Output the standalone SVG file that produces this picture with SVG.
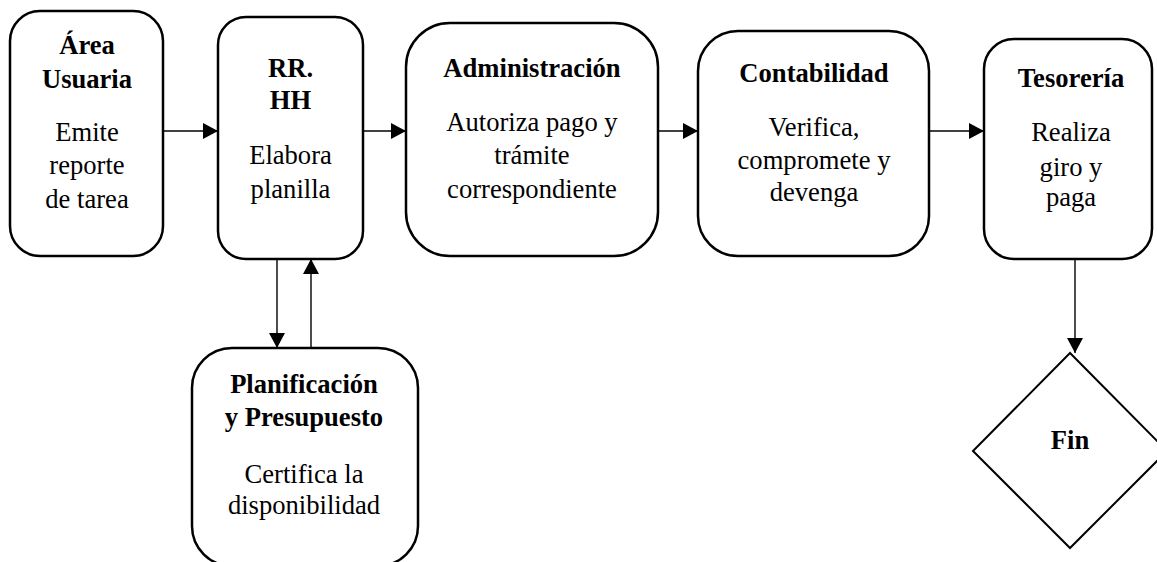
<svg xmlns="http://www.w3.org/2000/svg" width="1157" height="562" viewBox="0 0 1157 562">
<style>
.box{fill:#fff;stroke:#000;stroke-width:2.5}
.dia{fill:#fff;stroke:#000;stroke-width:2}
.t{font-family:"Liberation Serif","Times New Roman",serif;font-size:26.6px;text-anchor:middle;fill:#000}
.b{font-weight:bold}
.c{stroke:#000;stroke-width:1.4;fill:none;marker-end:url(#ah)}
</style>
<defs>
<marker id="ah" markerUnits="userSpaceOnUse" markerWidth="16" markerHeight="17" refX="15" refY="8" orient="auto">
<path d="M0,0 L15,8 L0,16 z" fill="#000"/>
</marker>
</defs>
<rect width="1157" height="562" fill="#fff"/>
<g id="connectors">
<line class="c" x1="163" y1="131" x2="218" y2="131"/>
<line class="c" x1="363" y1="131" x2="406" y2="131"/>
<line class="c" x1="658" y1="131" x2="698" y2="131"/>
<line class="c" x1="929" y1="131" x2="984" y2="131"/>
<line class="c" x1="277" y1="259" x2="277" y2="348"/>
<line class="c" x1="311" y1="348" x2="311" y2="259"/>
<line class="c" x1="1075" y1="259" x2="1075" y2="353"/>
</g>
<g id="area-usuaria">
<rect class="box" x="10" y="11" width="153" height="245" rx="30"/>
<text class="t b" x="87" y="54">Área</text>
<text class="t b" x="87" y="88">Usuaria</text>
<text class="t" x="87" y="141">Emite</text>
<text class="t" x="87" y="174">reporte</text>
<text class="t" x="87" y="208">de tarea</text>
</g>
<g id="rrhh">
<rect class="box" x="218" y="17" width="145" height="242" rx="28"/>
<text class="t b" x="290.5" y="77">RR.</text>
<text class="t b" x="290.5" y="109">HH</text>
<text class="t" x="290.5" y="164">Elabora</text>
<text class="t" x="290.5" y="198">planilla</text>
</g>
<g id="administracion">
<rect class="box" x="406" y="23" width="252" height="233" rx="44"/>
<text class="t b" x="532" y="77">Administración</text>
<text class="t" x="532" y="131">Autoriza pago y</text>
<text class="t" x="532" y="164">trámite</text>
<text class="t" x="532" y="198">correspondiente</text>
</g>
<g id="contabilidad">
<rect class="box" x="698" y="31" width="231" height="225" rx="40"/>
<text class="t b" x="814" y="82">Contabilidad</text>
<text class="t" x="814" y="136">Verifica,</text>
<text class="t" x="814" y="169">compromete y</text>
<text class="t" x="814" y="201">devenga</text>
</g>
<g id="tesoreria">
<rect class="box" x="984" y="39" width="168" height="220" rx="30"/>
<text class="t b" x="1071" y="87">Tesorería</text>
<text class="t" x="1071" y="141">Realiza</text>
<text class="t" x="1071" y="176">giro y</text>
<text class="t" x="1071" y="206">paga</text>
</g>
<g id="planificacion">
<rect class="box" x="192" y="348" width="226" height="218" rx="40"/>
<text class="t b" x="304" y="393">Planificación</text>
<text class="t b" x="304" y="426">y Presupuesto</text>
<text class="t" x="304" y="483">Certifica la</text>
<text class="t" x="304" y="514">disponibilidad</text>
</g>
<g id="fin">
<polygon class="dia" points="1070,353 973,451 1070,548 1167,451"/>
<text class="t b" x="1070" y="449">Fin</text>
</g>
</svg>
